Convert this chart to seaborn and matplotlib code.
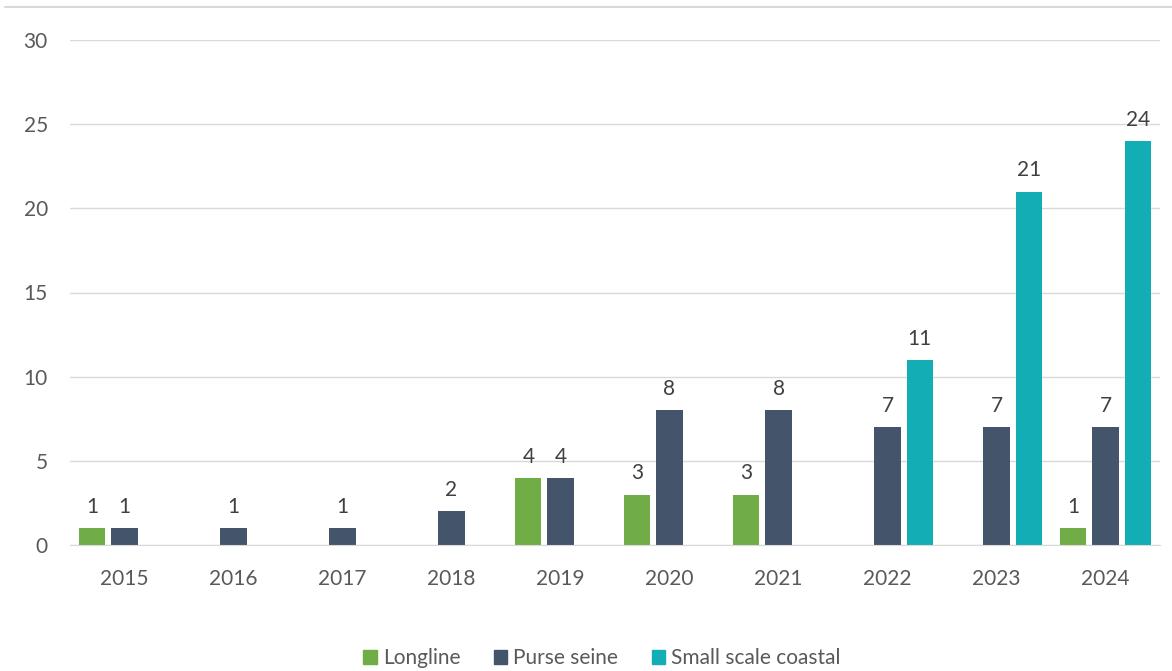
import numpy as np
import pandas as pd
import matplotlib
matplotlib.use("Agg")
import matplotlib.pyplot as plt
import seaborn as sns
from matplotlib.lines import Line2D
from matplotlib.patches import Patch

years = ["2015", "2016", "2017", "2018", "2019", "2020", "2021", "2022", "2023", "2024"]
longline = [1, np.nan, np.nan, np.nan, 4, 3, 3, np.nan, np.nan, 1]
purse_seine = [1, 1, 1, 2, 4, 8, 8, 7, 7, 7]
small_scale = [np.nan, np.nan, np.nan, np.nan, np.nan, np.nan, np.nan, 11, 21, 24]
gears = ["Longline", "Purse seine", "Small scale coastal"]
colors = ["#70AD47", "#44546A", "#13ADB5"]

df = pd.DataFrame({
    "year": years * 3,
    "gear": [g for g in gears for _ in years],
    "value": longline + purse_seine + small_scale,
}).dropna()

sns.set_style("white")
plt.rcParams['font.family'] = ['Lato', 'DejaVu Sans']
txt = "#595959"
fs = 15

fig = plt.figure(figsize=(11.72, 6.71), dpi=100)
ax = fig.add_axes([70/1172, 126/671, 1090/1172, 505/671])

sns.barplot(data=df, x="year", y="value", hue="gear", order=years, hue_order=gears,
            palette=colors, saturation=1, width=0.885, gap=0.19, errorbar=None,
            legend=False, linewidth=0, ax=ax)

for c in ax.containers:
    labels = ["" if np.isnan(b.get_height()) else "%d" % b.get_height() for b in c]
    ax.bar_label(c, labels=labels, padding=8, fontsize=fs, color="#404040")

ax.set_ylim(0, 30)
ax.set_xlim(-0.5, 9.5)
ax.set_yticks([0, 5, 10, 15, 20, 25, 30])
ax.yaxis.grid(True, color="#D9D9D9", linewidth=1)
ax.set_axisbelow(True)
ax.set_xlabel("")
ax.set_ylabel("")
ax.tick_params(axis="y", length=0, pad=16, labelsize=fs, labelcolor=txt)
ax.tick_params(axis="x", length=0, pad=17, labelsize=fs, labelcolor=txt)
for s in ["top", "right", "left"]:
    ax.spines[s].set_visible(False)
ax.spines["bottom"].set_color("#D9D9D9")

handles = [Patch(color=c, label=g) for g, c in zip(gears, colors)]
fig.legend(handles=handles, loc="center", bbox_to_anchor=(602/1172, 13/671), ncol=3,
           frameon=False, fontsize=fs, handlelength=0.65, handleheight=0.65,
           handletextpad=0.3, columnspacing=1.6, labelcolor=txt)

fig.add_artist(Line2D([0.004, 1.0], [1 - 7/671, 1 - 7/671], color="#D9D9D9", linewidth=1.5))

fig.savefig("out.png", dpi=100, facecolor="white")
